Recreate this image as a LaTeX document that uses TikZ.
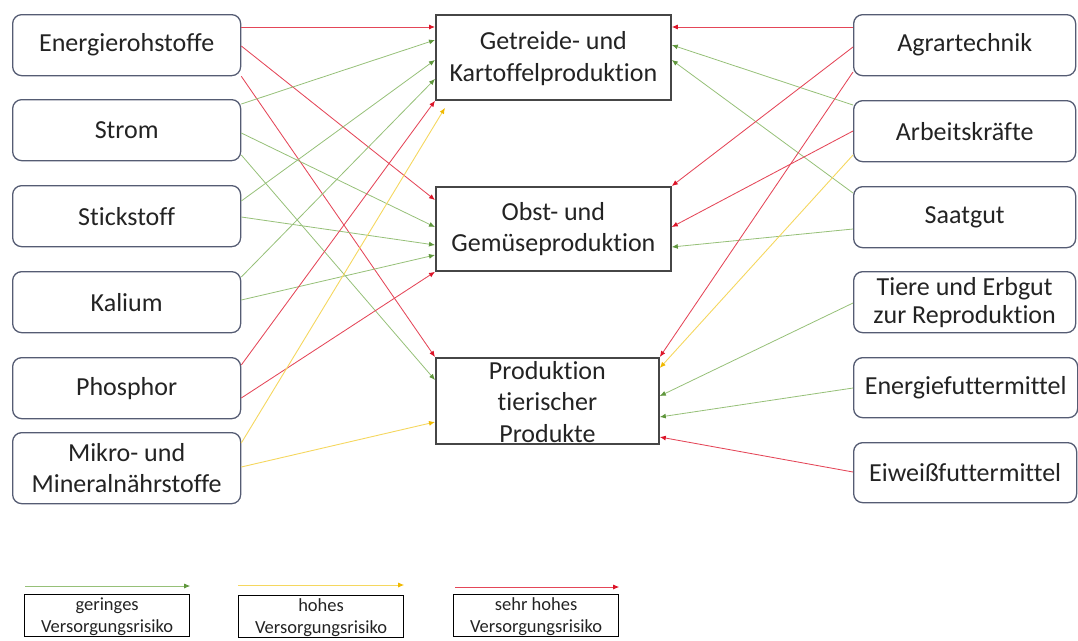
\documentclass[tikz,border=0pt]{standalone}
\usepackage{fontspec}
\setmainfont{Carlito}[Ligatures=NoCommon]
\usetikzlibrary{arrows.meta,calc}
\definecolor{txt}{RGB}{35,35,35}
\definecolor{lboxc}{RGB}{85,92,115}
\definecolor{cboxc}{RGB}{70,70,70}
\definecolor{gline}{RGB}{150,192,120}
\definecolor{ghead}{RGB}{95,150,60}
\definecolor{yline}{RGB}{245,215,95}
\definecolor{yhead}{RGB}{240,185,0}
\definecolor{rline}{RGB}{228,70,88}
\definecolor{rhead}{RGB}{220,20,40}
\begin{document}
\begin{tikzpicture}[x=1pt,y=-1pt,
  sidebox/.style={draw=lboxc, line width=1.3pt, rounded corners=9pt, inner sep=0pt, anchor=north west, minimum height=61pt},
  lbox/.style={sidebox, minimum width=228pt},
  rbox/.style={sidebox, minimum width=222pt},
  cbox/.style={draw=cboxc, line width=1.8pt, inner sep=0pt, anchor=north west, minimum width=235pt},
  lgbox/.style={draw=black, line width=1.2pt, inner sep=0pt, anchor=north west, minimum width=165pt, minimum height=42pt},
  txtn/.style={inner sep=0pt, align=center, text=txt, font=\fontsize{26}{31.5}\selectfont},
  lgtxt/.style={inner sep=0pt, align=center, text=txt, font=\fontsize{18.5}{22}\selectfont},
  gar/.style={draw=gline, line width=0.8pt, -{Latex[length=6pt,width=5pt,color=ghead]}},
  yar/.style={draw=yline, line width=0.9pt, -{Latex[length=6pt,width=5pt,color=yhead]}},
  rar/.style={draw=rline, line width=0.85pt, -{Latex[length=6pt,width=5pt,color=rhead]}}
]
\useasboundingbox (0,0) rectangle (1078,640);

% left boxes
\node[lbox] (L1) at (12,14) {};
\node[lbox] (L2) at (12,99) {};
\node[lbox] (L3) at (12,185) {};
\node[lbox] (L4) at (12,271) {};
\node[lbox] (L5) at (12,357) {};
\node[lbox, minimum height=71pt] (L6) at (12,432) {};
\node[txtn] (L1t) at (L1.center) {Energierohstoffe};
\node[txtn] (L2t) at (L2.center) {Strom};
\node[txtn] (L3t) at (L3.center) {Stickstoff};
\node[txtn] (L4t) at (L4.center) {Kalium};
\node[txtn] (L5t) at (L5.center) {Phosphor};
\node[txtn] (L6t) at (L6.center) {Mikro- und\\Mineralnährstoffe};

% center boxes
\node[cbox, minimum height=85pt] (G) at (435,14) {};
\node[cbox, minimum height=84pt] (O) at (435,186) {};
\node[cbox, minimum height=86pt, minimum width=223pt] (P) at (435,357) {};
\node[txtn] (Gt) at ($(G.center)+(0,1)$) {Getreide- und\\Kartoffelproduktion};
\node[txtn] (Ot) at (O.center) {Obst- und\\Gemüseproduktion};
\node[txtn] (Pt) at ($(P.center)+(0,1)$) {Produktion\\tierischer\\Produkte};

% right boxes
\node[rbox] (R1) at (853,14) {};
\node[rbox] (R2) at (853,100) {};
\node[rbox] (R3) at (853,186) {};
\node[rbox] (R4) at (853,271) {};
\node[rbox, minimum width=224pt, minimum height=60pt] (R5) at (853,357) {};
\node[rbox, minimum width=223pt, minimum height=60pt] (R6) at (853,442) {};
\node[txtn] (R1t) at (R1.center) {Agrartechnik};
\node[txtn] (R2t) at (R2.center) {Arbeitskräfte};
\node[txtn] (R3t) at (R3.center) {Saatgut};
\node[txtn, font=\fontsize{26}{28}\selectfont] (R4t) at (R4.center) {Tiere und Erbgut\\zur Reproduktion};
\node[txtn] (R5t) at (R5.center) {Energiefuttermittel};
\node[txtn] (R6t) at (R6.center) {Eiweißfuttermittel};

% left connectors
\draw[rar] ($(L1.north east)+(0,13)$) -- ($(G.north west)+(0,13)$);
\draw[rar] ($(L1.north east)+(0,32)$) -- ($(O.north west)+(0,14)$);
\draw[rar] ($(L1.south east)+(0,0)$) -- (P.north west);
\draw[gar] ($(L2.north east)+(0,5)$) -- ($(G.north west)+(0,26)$);
\draw[gar] ($(L2.north east)+(0,34)$) -- ($(O.north west)+(0,41)$);
\draw[gar] ($(L2.north east)+(0,56)$) -- ($(P.north west)+(0,23)$);
\draw[gar] ($(L3.north east)+(0,16)$) -- ($(G.north west)+(0,46)$);
\draw[gar] ($(L3.north east)+(0,32)$) -- ($(O.north west)+(0,59)$);
\draw[gar] ($(L4.north east)+(0,6)$) -- ($(G.north west)+(0,65)$);
\draw[gar] ($(L4.north east)+(0,29)$) -- ($(O.north west)+(0,69)$);
\draw[rar] ($(L5.north east)+(0,8)$) -- (G.south west);
\draw[rar] ($(L5.north east)+(0,41)$) -- (O.south west);
\draw[yar] ($(L6.north east)+(0,11)$) -- ($(G.south west)+(10,7)$);
\draw[yar] ($(L6.north east)+(0,35)$) -- ($(P.north west)+(0,65)$);

% right connectors
\draw[rar] ($(R1.north west)+(0,13)$) -- ($(G.north east)+(0,13)$);
\draw[gar] ($(R2.north west)+(0,5)$) -- ($(G.north east)+(0,31)$);
\draw[gar] ($(R3.north west)+(0,7)$) -- ($(G.north east)+(0,46)$);
\draw[rar] ($(R1.north west)+(0,33)$) -- (O.north east);
\draw[rar] ($(R2.north west)+(0,31)$) -- ($(O.north east)+(0,41)$);
\draw[gar] ($(R3.north west)+(0,43)$) -- ($(O.north east)+(0,61)$);
\draw[rar] ($(R1.north west)+(0,58)$) -- (P.north east);
\draw[yar] ($(R2.north west)+(0,55)$) -- ($(P.north east)+(0,11)$);
\draw[gar] ($(R4.north west)+(0,32)$) -- ($(P.north east)+(0,39)$);
\draw[gar] ($(R5.north west)+(0,31)$) -- ($(P.north east)+(0,60)$);
\draw[rar] ($(R6.north west)+(0,30)$) -- ($(P.north east)+(0,80)$);

% legend
\node[lgbox] (LG1) at (24,594) {};
\node[lgbox] (LG2) at (238,595) {};
\node[lgbox] (LG3) at (453,594) {};
\node[lgtxt] (LG1t) at ($(LG1.center)+(0,1)$) {geringes\\Versorgungsrisiko};
\node[lgtxt] (LG2t) at ($(LG2.center)+(0,1)$) {hohes\\Versorgungsrisiko};
\node[lgtxt] (LG3t) at ($(LG3.center)+(0,1)$) {sehr hohes\\Versorgungsrisiko};
\coordinate (A1s) at ($(LG1.north west)+(1,-8)$);
\coordinate (A1e) at ($(LG1.north east)+(0,-8)$);
\coordinate (A2s) at ($(LG2.north west)+(0,-10)$);
\coordinate (A2e) at ($(LG2.north east)+(0,-10)$);
\coordinate (A3s) at ($(LG3.north west)+(2,-7)$);
\coordinate (A3e) at ($(LG3.north east)+(0,-7)$);
\draw[gar] (A1s) -- (A1e);
\draw[yar] (A2s) -- (A2e);
\draw[rar] (A3s) -- (A3e);
\end{tikzpicture}
\end{document}
